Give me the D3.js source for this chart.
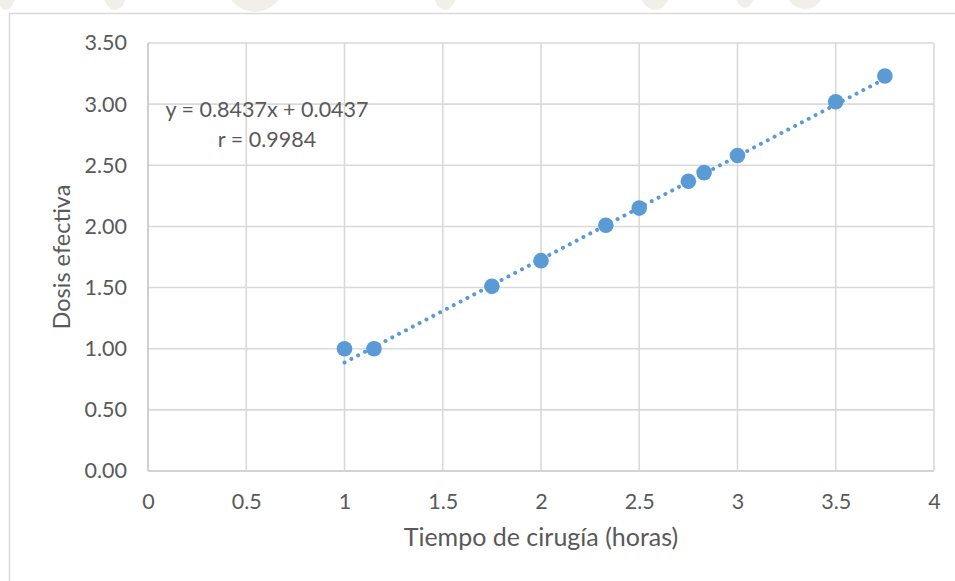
<!DOCTYPE html>
<html>
<head>
<meta charset="utf-8">
<script src="https://cdn.jsdelivr.net/npm/d3@7/dist/d3.min.js"></script>
<style>
  html, body { margin: 0; padding: 0; background: #ffffff; }
  svg { display: block; }
  text { font-family: Lato, "Open Sans", sans-serif; fill: #595959; }
</style>
</head>
<body>
<svg id="chart" width="955" height="581"></svg>
<script>
// Surgery time (hours) vs effective dose
const tiempoHoras = [1.00, 1.15, 1.75, 2.00, 2.33, 2.50, 2.75, 2.83, 3.00, 3.50, 3.75];
const dosisEfectiva = [1.00, 1.00, 1.51, 1.72, 2.01, 2.15, 2.37, 2.44, 2.58, 3.02, 3.23];

// Linear trendline as reported
const pendiente = 0.8437;
const intercepto = 0.0437;
const coefR = 0.9984;

const xTicks = [0, 0.5, 1, 1.5, 2, 2.5, 3, 3.5, 4];
const yTicks = [0, 0.5, 1, 1.5, 2, 2.5, 3, 3.5];

const svg = d3.select("#chart");
const W = 955, H = 581;
const plot = { left: 148, right: 934, top: 43, bottom: 471 };

// faint background emblem peeking above the chart frame
const marca = svg.append("g").attr("fill", "#f0efe9");
[[6, -20, 12, 30], [115, -10, 12, 20], [255, -30, 34, 42], [445, -20, 14, 30],
 [655, -20, 18, 30], [745, -20, 12, 28], [805, -25, 24, 34]].forEach(([cx, cy, rx, ry]) => {
  marca.append("ellipse").attr("cx", cx).attr("cy", cy).attr("rx", rx).attr("ry", ry);
});

// chart frame
svg.append("rect")
  .attr("x", 9.5).attr("y", 13.5)
  .attr("width", W + 20).attr("height", H + 20)
  .attr("fill", "#ffffff")
  .attr("stroke", "#d9d9d9").attr("stroke-width", 1.5);

const x = d3.scaleLinear().domain([0, 4]).range([plot.left, plot.right]);
const y = d3.scaleLinear().domain([0, 3.5]).range([plot.bottom, plot.top]);

// gridlines
const grid = svg.append("g");
grid.selectAll(".gy").data(yTicks).join("line")
  .attr("x1", plot.left).attr("x2", plot.right)
  .attr("y1", d => y(d)).attr("y2", d => y(d))
  .attr("stroke", d => d === 0 ? "#c4c4c4" : "#d9d9d9")
  .attr("stroke-width", 1.6);
grid.selectAll(".gx").data(xTicks).join("line")
  .attr("y1", plot.top).attr("y2", plot.bottom)
  .attr("x1", d => x(d)).attr("x2", d => x(d))
  .attr("stroke", d => d === 0 ? "#c4c4c4" : "#d9d9d9")
  .attr("stroke-width", 1.6);

// axes (labels only; lines come from the grid)
const yAxis = svg.append("g")
  .attr("transform", `translate(${plot.left},0)`)
  .call(d3.axisLeft(y).tickValues(yTicks).tickFormat(d3.format(".2f")).tickSize(0).tickPadding(21));
const xAxis = svg.append("g")
  .attr("transform", `translate(0,${plot.bottom})`)
  .call(d3.axisBottom(x).tickValues(xTicks).tickFormat(d => String(d)).tickSize(0).tickPadding(23));
[yAxis, xAxis].forEach(g => {
  g.select(".domain").remove();
  g.selectAll("text").attr("font-size", 21.5).attr("fill", "#595959")
    .style("font-family", "Lato, 'Open Sans', sans-serif");
});

// axis titles
svg.append("text")
  .attr("x", (plot.left + plot.right) / 2).attr("y", 546)
  .attr("text-anchor", "middle").attr("font-size", 25)
  .text("Tiempo de cirugía (horas)");
svg.append("text")
  .attr("transform", `translate(70,${(plot.top + plot.bottom) / 2}) rotate(-90)`)
  .attr("text-anchor", "middle").attr("font-size", 23.5)
  .text("Dosis efectiva");

// trendline
const xs = d3.extent(tiempoHoras);
svg.append("line")
  .attr("x1", x(xs[0])).attr("y1", y(pendiente * xs[0] + intercepto))
  .attr("x2", x(xs[1])).attr("y2", y(pendiente * xs[1] + intercepto))
  .attr("stroke", "#5b9bd5").attr("stroke-width", 4)
  .attr("stroke-linecap", "round").attr("stroke-dasharray", "0.01 7.7");

// data points
svg.append("g").selectAll("circle")
  .data(tiempoHoras.map((t, i) => [t, dosisEfectiva[i]]))
  .join("circle")
  .attr("cx", d => x(d[0])).attr("cy", d => y(d[1]))
  .attr("r", 7.8).attr("fill", "#5b9bd5");

// equation label
const fmt4 = d3.format(".4f");
svg.append("text").attr("x", 267).attr("y", 117).attr("text-anchor", "middle")
  .attr("font-size", 21.5)
  .text(`y = ${fmt4(pendiente)}x + ${fmt4(intercepto)}`);
svg.append("text").attr("x", 267).attr("y", 147).attr("text-anchor", "middle")
  .attr("font-size", 21.5)
  .text(`r = ${fmt4(coefR)}`);
</script>
</body>
</html>
